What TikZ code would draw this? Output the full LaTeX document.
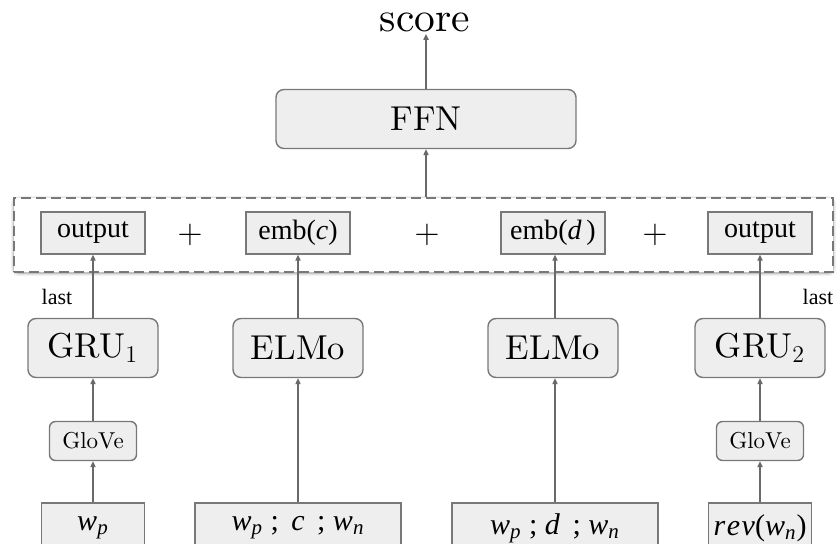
\documentclass[tikz,border=0pt]{standalone}
\usepackage{fontspec}
\setmainfont{lmroman10-regular}[Extension=.otf,ItalicFont=lmroman10-italic,BoldFont=lmroman10-bold]
\newfontfamily\tms{Liberation Serif}
\usetikzlibrary{arrows.meta,shadows.blur}
\definecolor{boxline}{RGB}{120,120,120}
\definecolor{boxfill}{RGB}{238,238,238}
\definecolor{lienc}{RGB}{105,105,105}
\begin{document}
\begin{tikzpicture}[x=0.5pt,y=-0.5pt]
\tikzstyle{lien}=[-{Triangle[length=3pt,width=2.6pt]},draw=lienc,line width=0.7pt]
\tikzset{bloc/.style={draw=boxline,line width=0.7pt,fill=boxfill,rounded corners=4pt,inner sep=0pt,minimum height=29.5pt,minimum width=#1,font=\LARGE},
bloc/.default={65pt},
glove/.style={draw=boxline,line width=0.7pt,fill=boxfill,rounded corners=3pt,inner sep=0pt,minimum height=19.5pt,minimum width=43.5pt,font=\fontsize{11.5}{13}\selectfont},
sortie/.style={draw=boxline,line width=0.7pt,fill=boxfill,inner sep=0pt,minimum height=21pt,minimum width=52pt,font=\tms\fontsize{14}{16}\selectfont},
entree/.style={draw=boxline,line width=0.7pt,fill=boxfill,inner sep=0pt,minimum height=25pt,minimum width=#1,font=\tms\fontsize{15}{17}\selectfont},
etiq/.style={inner sep=0pt,font=\tms\fontsize{11}{13}\selectfont}}
\clip (0,0) rectangle (838,544);

% haut
\node[inner sep=1pt,font=\huge] (S) at (425,22) {score};
\node[bloc=150pt] (F) at (426,119) {FFN};

% bloc des sorties
\node[draw=boxline,line width=0.8pt,dash pattern=on 5pt off 2.5pt,fill=white,
  blur shadow={shadow blur steps=8,shadow blur extra rounding=2pt,shadow xshift=0pt,shadow yshift=-0.5pt},
  minimum width=409.5pt,minimum height=37pt] (B) at (423.5,235) {};
\node[sortie] (O1) at (93,233) {output};
\node[sortie] (E1) at (298,233) {emb(\textit{c})};
\node[sortie] (E2) at (553,233) {emb(\textit{d}\,)};
\node[sortie] (O2) at (760,233) {output};
\node[font=\LARGE] (P1) at (190,235) {$+$};
\node[font=\LARGE] (P2) at (427,235) {$+$};
\node[font=\LARGE] (P3) at (655,235) {$+$};

\node[etiq] (L1) at (57,297) {last};
\node[etiq] (L2) at (818,297) {last};

% encodeurs
\node[bloc] (G1) at (93,348) {GRU$_1$};
\node[bloc] (M1) at (298,348) {ELMo};
\node[bloc] (M2) at (553,348) {ELMo};
\node[bloc] (G2) at (760,348) {GRU$_2$};
\node[glove] (V1) at (93,441) {GloVe};
\node[glove] (V2) at (760,441) {GloVe};

% entrees
\node[entree=51.5pt] (I1) at (93,528) {\textit{w}\textsubscript{\textit{p}}};
\node[entree=103pt] (I2) at (298,528) {\textit{w}\textsubscript{\textit{p}} ; \,\textit{c}\, ; \textit{w}\textsubscript{\textit{n}}};
\node[entree=103pt] (I3) at (555,528) {\textit{w}\textsubscript{\textit{p}} ; \textit{d}\, ; \textit{w}\textsubscript{\textit{n}}};
\node[entree=51.5pt] (I4) at (760,528) {\textit{r\kern0.8pt e\kern0.8pt v}(\textit{w}\textsubscript{\textit{n}})};

\draw[lien] (I1) -- (V1);
\draw[lien] (V1) -- (G1);
\draw[lien] (G1) -- (O1);
\draw[lien] (I2) -- (M1);
\draw[lien] (M1) -- (E1);
\draw[lien] (I3.north) -- (I3.north |- M2.south);
\draw[lien] (M2.north -| I3.north) -- (I3.north |- E2.south);
\draw[lien] (I4) -- (V2);
\draw[lien] (V2) -- (G2);
\draw[lien] (G2) -- (O2);
\draw[lien] (F.south |- B.north) -- (F.south);
\draw[lien] (F.north) -- (F.north |- S.south);

\end{tikzpicture}
\end{document}
